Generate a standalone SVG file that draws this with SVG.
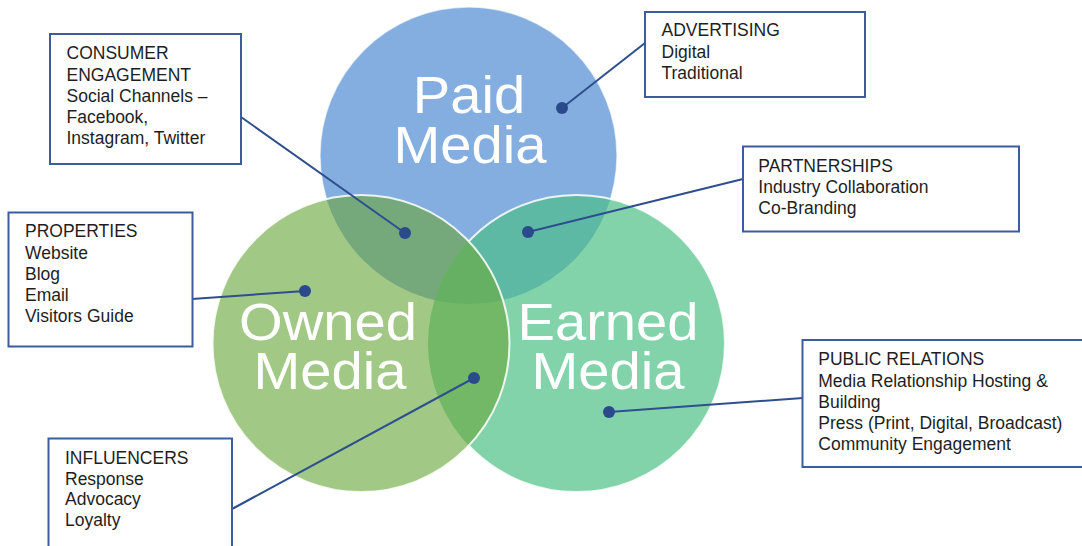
<svg xmlns="http://www.w3.org/2000/svg" width="1082" height="546" viewBox="0 0 1082 546">
<style>
.box{fill:#ffffff;stroke:#3D5C9E;stroke-width:2}
.bt{font-family:"Liberation Sans",Arial,sans-serif;font-size:17.5px;fill:#1e1e1e}
.big{font-family:"Liberation Sans",Arial,sans-serif;font-size:52px;fill:#ffffff;text-anchor:middle}
.con{stroke:#2F4E8F;stroke-width:2;fill:none}
.dot{fill:#2B4A8B}
.edge{fill:none;stroke:#ffffff;stroke-width:2;stroke-opacity:0.85}
</style>
<defs>
<clipPath id="cPaid"><circle cx="468.5" cy="155.5" r="148.5"/></clipPath>
<clipPath id="cEarned"><circle cx="576.5" cy="343.5" r="148.5"/></clipPath>
</defs>
<rect width="1082" height="546" fill="#ffffff"/>
<g id="circles">
<g id="paid-media">
<circle cx="468.5" cy="155.5" r="148.5" fill="#84AEDF" stroke="#ffffff" stroke-width="1.5" stroke-opacity="0.6"/>
</g>
<g id="earned-media">
<circle cx="576.5" cy="343.5" r="148.5" fill="#82D3AA"/>
<circle cx="576.5" cy="343.5" r="148.5" fill="#5DB9A4" clip-path="url(#cPaid)"/>
<circle class="edge" cx="576.5" cy="343.5" r="148.5"/>
</g>
<g id="owned-media">
<circle cx="361" cy="343.5" r="148.5" fill="#A1C885"/>
<circle cx="361" cy="343.5" r="148.5" fill="#75A87B" clip-path="url(#cPaid)"/>
<circle cx="361" cy="343.5" r="148.5" fill="#73B866" clip-path="url(#cEarned)"/>
<g clip-path="url(#cPaid)"><circle cx="361" cy="343.5" r="148.5" fill="#66B063" clip-path="url(#cEarned)"/></g>
<circle class="edge" cx="361" cy="343.5" r="148.5"/>
</g>
<g id="circle-labels">
<text class="big" transform="translate(469,113) scale(1.08,1)">Paid</text>
<text class="big" transform="translate(470,163) scale(1.08,1)">Media</text>
<text class="big" transform="translate(328,340) scale(1.08,1)">Owned</text>
<text class="big" transform="translate(330,389) scale(1.08,1)">Media</text>
<text class="big" transform="translate(608,340) scale(1.08,1)">Earned</text>
<text class="big" transform="translate(608,389) scale(1.08,1)">Media</text>
</g>
</g>
<g id="connectors">
<line class="con" x1="562" y1="108" x2="645" y2="43"/>
<line class="con" x1="405" y1="233" x2="241" y2="117"/>
<line class="con" x1="528" y1="232" x2="743" y2="179"/>
<line class="con" x1="305" y1="291" x2="192" y2="299"/>
<line class="con" x1="474" y1="378" x2="232" y2="509"/>
<line class="con" x1="609" y1="412" x2="803" y2="398"/>
<circle class="dot" cx="562" cy="108" r="6"/>
<circle class="dot" cx="405" cy="233" r="6"/>
<circle class="dot" cx="528" cy="232" r="6"/>
<circle class="dot" cx="305" cy="291" r="6"/>
<circle class="dot" cx="474" cy="378" r="6"/>
<circle class="dot" cx="609" cy="412" r="6"/>
</g>
<g id="consumer-engagement">
<rect class="box" x="50" y="34" width="191" height="130"/>
<text class="bt" x="66.5" y="59.3">CONSUMER</text>
<text class="bt" x="66.5" y="81">ENGAGEMENT</text>
<text class="bt" x="66.5" y="102">Social Channels –</text>
<text class="bt" x="66.5" y="123">Facebook,</text>
<text class="bt" x="66.5" y="144.3">Instagram, Twitter</text>
</g>
<g id="properties">
<rect class="box" x="8.5" y="212.5" width="184" height="134"/>
<text class="bt" x="25" y="237.3">PROPERTIES</text>
<text class="bt" x="25" y="259">Website</text>
<text class="bt" x="25" y="280">Blog</text>
<text class="bt" x="25" y="301">Email</text>
<text class="bt" x="25" y="322.3">Visitors Guide</text>
</g>
<g id="advertising">
<rect class="box" x="645" y="12" width="220" height="85"/>
<text class="bt" x="661.5" y="36">ADVERTISING</text>
<text class="bt" x="661.5" y="57.5">Digital</text>
<text class="bt" x="661.5" y="78.7">Traditional</text>
</g>
<g id="partnerships">
<rect class="box" x="743" y="146.5" width="276" height="85"/>
<text class="bt" x="758.3" y="171.7">PARTNERSHIPS</text>
<text class="bt" x="758.3" y="192.7">Industry Collaboration</text>
<text class="bt" x="758.3" y="213.5">Co-Branding</text>
</g>
<g id="public-relations">
<rect class="box" x="802.5" y="340" width="290" height="127"/>
<text class="bt" x="818.3" y="365">PUBLIC RELATIONS</text>
<text class="bt" x="818.3" y="386.7">Media Relationship Hosting &amp;</text>
<text class="bt" x="818.3" y="408.3">Building</text>
<text class="bt" x="818.3" y="429.3">Press (Print, Digital, Broadcast)</text>
<text class="bt" x="818.3" y="450.3">Community Engagement</text>
</g>
<g id="influencers">
<rect class="box" x="48.5" y="438.5" width="183.5" height="120"/>
<text class="bt" x="65" y="463.5">INFLUENCERS</text>
<text class="bt" x="65" y="484.5">Response</text>
<text class="bt" x="65" y="505">Advocacy</text>
<text class="bt" x="65" y="526">Loyalty</text>
</g>
</svg>
